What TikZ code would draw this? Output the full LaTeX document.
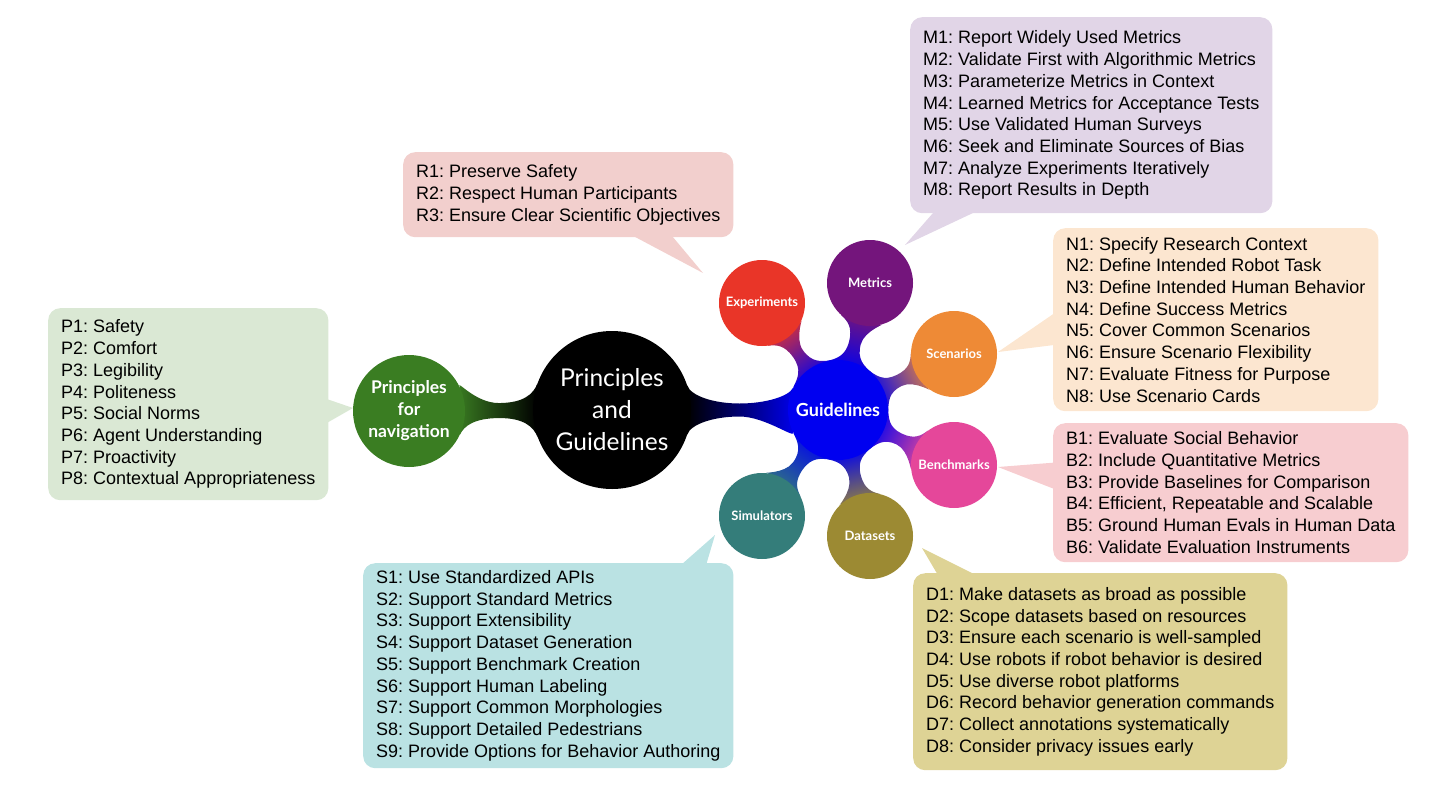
\documentclass[tikz,border=0pt]{standalone}
\usepackage{fontspec}
\setmainfont{Liberation Sans}
\newfontfamily\latofont{Lato}
\usetikzlibrary{calc}
\pgfdeclarelayer{background}
\pgfsetlayers{background,main}
\frenchspacing
\definecolor{cgreen}{RGB}{58,125,34}
\definecolor{cblue}{RGB}{0,0,240}
\definecolor{cred}{RGB}{233,53,40}
\definecolor{cpurple}{RGB}{116,21,124}
\definecolor{corange}{RGB}{238,138,54}
\definecolor{cpink}{RGB}{229,71,154}
\definecolor{colive}{RGB}{156,138,51}
\definecolor{cteal}{RGB}{52,125,122}
\definecolor{bgreen}{RGB}{218,232,212}
\definecolor{bred}{RGB}{242,207,205}
\definecolor{bpurple}{RGB}{225,213,231}
\definecolor{borange}{RGB}{252,230,208}
\definecolor{bpink}{RGB}{247,205,208}
\definecolor{bolive}{RGB}{222,211,149}
\definecolor{bteal}{RGB}{186,226,227}
% #1 node A, #2 node B, #3 colour A, #4 colour B, #5 angle at A, #6 angle at B, #7 half width
\newcommand\mmbar[7]{%
  \pgfpointanchor{#1}{center}\pgfgetlastxy{\mmax}{\mmay}%
  \pgfpointanchor{#2}{center}\pgfgetlastxy{\mmbx}{\mmby}%
  \pgfpointanchor{#1}{east}\pgfgetlastxy{\mmaex}{\mmaey}%
  \pgfpointanchor{#2}{east}\pgfgetlastxy{\mmbex}{\mmbey}%
  \pgfmathsetmacro\mmth{atan2(\mmby-\mmay,\mmbx-\mmax)}%
  \pgfmathsetmacro\mmra{\mmaex-\mmax}%
  \pgfmathsetmacro\mmrb{\mmbex-\mmbx}%
  \pgfmathsetmacro\mmd{veclen(\mmbx-\mmax,\mmby-\mmay)}%
  \pgfmathsetmacro\mmgap{\mmd-\mmra-\mmrb}%
  \pgfmathsetmacro\mmwd{\mmra+\mmgap/2}%
  \pgfmathsetmacro\mmca{0.6*(\mmra*sin(#5)-#7)}%
  \pgfmathsetmacro\mmcb{0.6*(\mmrb*sin(#6)-#7)}%
  \pgfmathsetmacro\mmcw{min(0.3*\mmgap+4,26)}%
  \pgfmathsetmacro\mmsh{\mmth+90}%
  \begin{pgfonlayer}{background}
  \shade[left color=#3, right color=#4, shading angle=\mmsh]
    ($(\mmax,\mmay)+(\mmth+#5:\mmra pt)$)
    .. controls +(\mmth+#5-90:\mmca pt) and +(\mmth+180:\mmcw pt) ..
    ($(\mmax,\mmay)+(\mmth:\mmwd pt)+(\mmth+90:#7 pt)$)
    .. controls +(\mmth:\mmcw pt) and +(\mmth-90-#6:\mmcb pt) ..
    ($(\mmbx,\mmby)+(\mmth+180-#6:\mmrb pt)$)
    -- ($(\mmbx,\mmby)+(\mmth+180+#6:\mmrb pt)$)
    .. controls +(\mmth-90+#6:\mmcb pt) and +(\mmth:\mmcw pt) ..
    ($(\mmax,\mmay)+(\mmth:\mmwd pt)+(\mmth-90:#7 pt)$)
    .. controls +(\mmth+180:\mmcw pt) and +(\mmth-#5+90:\mmca pt) ..
    ($(\mmax,\mmay)+(\mmth-#5:\mmra pt)$) -- cycle;
  \end{pgfonlayer}}
\begin{document}
\begin{tikzpicture}[x=1pt,y=-1pt,
  cbox/.style={rounded corners=12pt, inner xsep=13pt, inner ysep=0pt, align=left,
    anchor=north west, font=\frenchspacing\fontsize{18}{21.7}\selectfont, text=black},
  bigc/.style={circle, inner sep=0pt, text=white, align=center},
  smallc/.style={bigc, minimum size=86pt, font=\latofont\bfseries\fontsize{13}{15}\selectfont}]
\useasboundingbox (0,0) rectangle (1434,784);

% callout pointers
\coordinate (ptip) at (353,408);
\coordinate (rtip) at (703,273);
\coordinate (mtip) at (905,245);
\coordinate (ntip) at (998,352);
\coordinate (btip) at (998,467);
\coordinate (dtip) at (922,548);
\coordinate (stip) at (715,535);
\fill[bgreen] (318,396) -- (ptip) -- (318,428) -- cycle;
\fill[bred] (622,230) -- (rtip) -- (667,230) -- cycle;
\fill[bpurple] (940,205) -- (mtip) -- (990,205) -- cycle;
\fill[borange] (1062,308) -- (ntip) -- (1062,344) -- cycle;
\fill[bpink] (1062,462) -- (btip) -- (1062,492) -- cycle;
\fill[bolive] (942,582) -- (dtip) -- (990,582) -- cycle;
\fill[bteal] (673,572) -- (stip) -- (704,572) -- cycle;

% callout boxes
\node[cbox, fill=bgreen, minimum height=192pt] (pbox) at (48,308)
 {P1: Safety\\P2: Comfort\\P3: Legibility\\P4: Politeness\\P5: Social Norms\\P6: Agent Understanding\\P7: Proactivity\\P8: Contextual Appropriateness};
\node[cbox, fill=bred, minimum height=85pt] (rbox) at (403,152)
 {R1: Preserve Safety\\R2: Respect Human Participants\\R3: Ensure Clear Scientific Objectives};
\node[cbox, fill=bpurple, minimum height=196pt] (mbox) at (910,17)
 {M1: Report Widely Used Metrics\\M2: Validate First with Algorithmic Metrics\\M3: Parameterize Metrics in Context\\M4: Learned Metrics for Acceptance Tests\\M5: Use Validated Human Surveys\\M6: Seek and Eliminate Sources of Bias\\M7: Analyze Experiments Iteratively\\M8: Report Results in Depth};
\node[cbox, fill=borange, minimum height=183pt] (nbox) at (1053,228)
 {N1: Specify Research Context\\N2: Define Intended Robot Task\\N3: Define Intended Human Behavior\\N4: Define Success Metrics\\N5: Cover Common Scenarios\\N6: Ensure Scenario Flexibility\\N7: Evaluate Fitness for Purpose\\N8: Use Scenario Cards};
\node[cbox, fill=bpink, minimum height=139pt] (bbox) at (1053,423)
 {B1: Evaluate Social Behavior\\B2: Include Quantitative Metrics\\B3: Provide Baselines for Comparison\\B4: Efficient, Repeatable and Scalable\\B5: Ground Human Evals in Human Data\\B6: Validate Evaluation Instruments};
\node[cbox, fill=bolive, minimum height=197pt] (dbox) at (913,573)
 {D1: Make datasets as broad as possible\\D2: Scope datasets based on resources\\D3: Ensure each scenario is well-sampled\\D4: Use robots if robot behavior is desired\\D5: Use diverse robot platforms\\D6: Record behavior generation commands\\D7: Collect annotations systematically\\D8: Consider privacy issues early};
\node[cbox, fill=bteal, minimum height=205pt] (sbox) at (363,563)
 {S1: Use Standardized APIs\\S2: Support Standard Metrics\\S3: Support Extensibility\\S4: Support Dataset Generation\\S5: Support Benchmark Creation\\S6: Support Human Labeling\\S7: Support Common Morphologies\\S8: Support Detailed Pedestrians\\S9: Provide Options for Behavior Authoring};

% concepts
\node[bigc, fill=black, minimum size=158pt, font=\latofont\fontsize{24.5}{32}\selectfont] (root) at (612,410) {Principles\\and\\Guidelines};
\node[bigc, fill=cgreen, minimum size=112pt, font=\latofont\bfseries\fontsize{17.5}{22}\selectfont] (nav) at (409,411) {Principles\\for\\navigation};
\node[bigc, fill=cblue, minimum size=100pt, font=\latofont\bfseries\fontsize{18}{22}\selectfont] (guide) at (838,410) {Guidelines};
\node[smallc, fill=cred] (exp) at (762,303) {Experiments};
\node[smallc, fill=cpurple] (met) at (870,283) {Metrics};
\node[smallc, fill=corange] (scen) at (954,354) {Scenarios};
\node[smallc, fill=cpink] (bench) at (954,465) {Benchmarks};
\node[smallc, fill=colive] (data) at (870,536) {Datasets};
\node[smallc, fill=cteal] (sim) at (762,516) {Simulators};

% connection bars
\mmbar{root}{nav}{black}{cgreen}{20}{25}{7.5}
\mmbar{root}{guide}{black}{cblue}{18}{26}{6.5}
\mmbar{guide}{exp}{cblue}{cred}{28}{28}{6}
\mmbar{guide}{met}{cblue}{cpurple}{28}{28}{6}
\mmbar{guide}{scen}{cblue}{corange}{28}{28}{6}
\mmbar{guide}{bench}{cblue}{cpink}{28}{28}{6}
\mmbar{guide}{data}{cblue}{colive}{28}{28}{6}
\mmbar{guide}{sim}{cblue}{cteal}{28}{28}{6}
\end{tikzpicture}
\end{document}
